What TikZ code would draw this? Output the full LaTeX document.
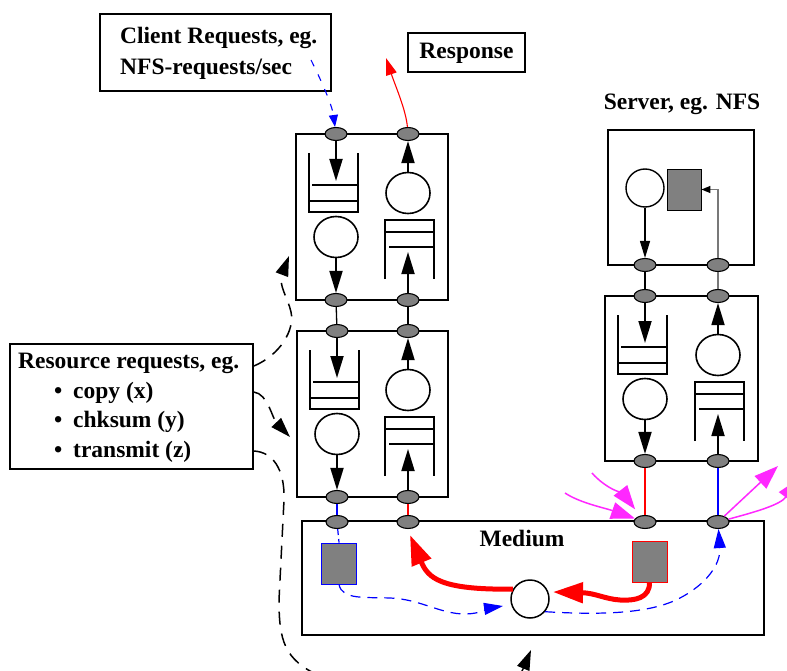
\documentclass[tikz,border=0pt]{standalone}
\usepackage{fontspec}
\setmainfont{Liberation Serif}
\usetikzlibrary{arrows.meta,shapes.geometric}

\definecolor{portgray}{RGB}{128,128,128}
\definecolor{magln}{RGB}{255,40,255}
\definecolor{wiregray}{RGB}{120,120,120}

\tikzset{
  box/.style={draw, line width=1.8pt, inner sep=0pt},
  port/.style={ellipse, draw, line width=1.1pt, fill=portgray,
    minimum width=22pt, minimum height=13pt, inner sep=0pt},
  srv/.style={ellipse, draw, line width=1.6pt, fill=white,
    minimum width=44pt, minimum height=41pt, inner sep=0pt},
  qline/.style={line width=1.8pt},
  flow/.style={line width=1.8pt, -{Triangle[length=22pt,width=13pt]}},
  lbl/.style={font=\bfseries\fontsize{23.5}{28}\selectfont, inner sep=0pt},
  link/.style={line width=1.3pt},
  rdash/.style={line width=1.5pt, dash pattern=on 13pt off 9pt,
    -{Triangle[length=20pt,width=13pt]}},
  bdash/.style={blue, line width=1.2pt, dash pattern=on 10pt off 7pt,
    -{Triangle[length=19pt,width=12pt]}},
  rthick/.style={red, line width=5pt, -{Triangle[length=30pt,width=20pt]}},
  mag/.style={magln, line width=1.5pt, -{Triangle[length=24pt,width=17pt]}},
}

% Queue block: #1 name, #2 left column x, #3 right column x, #4 top y, #5 bottom y
\newcommand\qblock[5]{%
  \node[box, minimum width={#3-#2+80}, minimum height={#5-#4}] (#1) at ({(#2+#3)/2},{(#4+#5)/2}) {};
  % incoming queue (left column)
  \draw[qline] ({#2-27},{#4+19}) -- ({#2-27},{#4+78}) -- ({#2+22},{#4+78}) -- ({#2+22},{#4+19});
  \draw[qline] ({#2-24},{#4+51}) -- ({#2+22},{#4+51});
  \draw[qline] ({#2-27},{#4+67}) -- ({#2+22},{#4+67});
  \node[srv] (#1cl) at (#2,{#4+103}) {};
  % outgoing queue (right column)
  \node[srv] (#1cr) at (#3,{#4+59}) {};
  \draw[qline] ({#3-23},{#4+145}) -- ({#3-23},{#4+86}) -- ({#3+26},{#4+86}) -- ({#3+26},{#4+145});
  \draw[qline] ({#3-23},{#4+98}) -- ({#3+26},{#4+98});
  \draw[qline] ({#3-19},{#4+113}) -- ({#3+26},{#4+113});
  % ports
  \node[port] (#1tl) at (#2,#4) {};
  \node[port] (#1tr) at (#3,#4) {};
  \node[port] (#1bl) at (#2,#5) {};
  \node[port] (#1br) at (#3,#5) {};
  \coordinate (#1qt) at (#2,{#4+47});
  \coordinate (#1qb) at (#3,{#4+118});
  \draw[flow] (#1tl) -- (#1qt);
  \draw[flow] (#1cl) -- (#1bl);
  \draw[flow] (#1cr) -- (#1tr);
  \draw[flow] (#1br) -- (#1qb);
}

\begin{document}
\begin{tikzpicture}[x=1pt, y=-1pt]
\useasboundingbox (0,0) rectangle (787,671);
\fill[white] (0,0) rectangle (787,671);
\clip (0,0) rectangle (787,671);

% client side label boxes
\node[box, minimum width=231, minimum height=77] (cli) at (215.5,52.5) {};
\node[lbl, anchor=base west] (clitxt1) at (120,44) {Client Requests, eg.};
\node[lbl, anchor=base west] (clitxt2) at (120,75) {NFS-requests/sec};
\node[box, minimum width=117, minimum height=39] (resp) at (466.5,52.5) {};
\node[lbl, anchor=base] (resptxt) at (466.5,59) {Response};

% resource requests box
\node[box, minimum width=243, minimum height=125] (res) at (131.5,406.5) {};
\node[lbl, anchor=base west] (restxt) at (18,368) {Resource requests, eg.};
\node[lbl, anchor=base west] (bul1) at (54,398) {•};
\node[lbl, anchor=base west] (it1) at (73,398) {copy (x)};
\node[lbl, anchor=base west] (bul2) at (54,427) {•};
\node[lbl, anchor=base west] (it2) at (73,427) {chksum (y)};
\node[lbl, anchor=base west] (bul3) at (54,457) {•};
\node[lbl, anchor=base west] (it3) at (73,457) {transmit (z)};

% client stack
\qblock{A}{336}{408}{134}{300}
\qblock{B}{337}{408}{331}{497}
\draw[link] (Abl) -- (Btl);
\draw[link] (Abr) -- (Btr);

% server
\node[lbl, anchor=base] (srvtxt) at (682,110) {Server, eg. NFS};
\node[box, minimum width=146, minimum height=135] (srv) at (681,197.5) {};
\node[ellipse, draw, line width=1.4pt, fill=white, minimum size=38pt, inner sep=0pt] (scirc) at (645,188) {};
\node[draw, line width=0.8pt, fill=portgray, minimum width=34pt, minimum height=41pt, inner sep=0pt] (ssq) at (684,189.5) {};
\node[port] (sp1) at (645,265) {};
\node[port] (sp2) at (718,265) {};
\draw[line width=1.2pt, -{Triangle[length=17pt,width=10pt]}] (scirc) -- (sp1);
\draw[wiregray, line width=1.2pt, -{Triangle[length=9pt,width=7pt,color=black]}] (sp2) |- (ssq.east);

\qblock{C}{645}{718}{296}{461}
\draw[link] (sp1) -- (Ctl);
\draw[link, wiregray] (sp2) -- (Ctr);

% medium
\node[box, minimum width=462, minimum height=114] (med) at (533,578) {};
\node[lbl, anchor=base] (medtxt) at (522,546) {Medium};
\node[port] (mp1) at (337,522) {};
\node[port] (mp2) at (408,522) {};
\node[port] (mp3) at (645,522) {};
\node[port] (mp4) at (718,522) {};
\node[draw=blue, line width=0.9pt, fill=portgray, minimum width=35pt, minimum height=41pt, inner sep=0pt] (bsq) at (339,563.5) {};
\node[draw=red, line width=0.9pt, fill=portgray, minimum width=35pt, minimum height=41pt, inner sep=0pt] (rsq) at (649.5,561.5) {};
\node[circle, draw, line width=1.5pt, fill=white, minimum size=38pt, inner sep=0pt] (mcirc) at (530,599) {};

\draw[link, blue] (Bbl) -- (mp1);
\draw[link, red] (Bbr) -- (mp2);
\draw[link, red] (Cbl) -- (mp3);
\draw[link, blue] (Cbr) -- (mp4);
\draw[blue, line width=1.2pt, dash pattern=on 6pt off 4pt] (mp1) -- (bsq.north);

% free ends of the connectors
\coordinate (cq) at (311,60);
\coordinate (rsp) at (386,58);
\coordinate (rq1) at (289,256);
\coordinate (rq2) at (290,437);
\coordinate (rq3) at (531,650);
\coordinate (rh1) at (553,592);
\coordinate (rh2) at (410,535);
\coordinate (bh1) at (503,606);
\coordinate (mi1) at (592,473);
\coordinate (mi2) at (565,493);
\coordinate (mo1) at (778,466);
\coordinate (mo2) at (800,478);

% request and response flows
\draw[blue, line width=1.1pt, dash pattern=on 7pt off 9pt, -{Triangle[length=12pt,width=9pt]}]
  (cq) .. controls (322,82) and (332,105) .. (Atl);
\draw[red, line width=1.1pt, -{Triangle[length=17pt,width=11pt]}]
  (Atr) .. controls (406,110) and (395,85) .. (rsp);

% resource request paths
\draw[rdash] ([yshift=40.5pt]res.east) .. controls (280,355) and (295,330) .. (291,312)
  .. controls (288,298) and (278,285) .. (rq1);
\draw[rdash] ([yshift=14.5pt]res.east) .. controls (268,394) and (272,418) .. (rq2);
\draw[rdash] ([yshift=-44.5pt]res.east) .. controls (272,452) and (285,468) .. (284,500)
  -- (279,600) .. controls (279,640) and (284,660) .. (320,676)
  .. controls (400,705) and (505,712) .. (rq3);

% transfers inside the medium
\draw[rthick] (rsq.south) .. controls (650,598) and (635,601) .. (620,600)
  .. controls (605,599) and (595,593) .. (rh1);
\draw[rthick] (mcirc.150) .. controls (440,590) and (428,578) .. (rh2);
\draw[bdash] (bsq.south) .. controls (342,600) and (365,597) .. (390,598)
  .. controls (420,599) and (440,614) .. (465,614)
  .. controls (480,614) and (490,608) .. (bh1);
\draw[bdash] (mcirc.-40) .. controls (600,615) and (650,614) .. (680,598)
  .. controls (705,585) and (721,565) .. (mp4);

% other traffic on the medium
\draw[mag, shorten >=8pt] (mi1) .. controls (605,488) and (624,495) .. (mp3);
\draw[mag] (mi2) .. controls (580,503) and (605,508) .. (mp3);
\draw[mag] (mp4) -- (mo1);
\draw[mag] (mp4) .. controls (755,512) and (780,505) .. (mo2);
\end{tikzpicture}
\end{document}
